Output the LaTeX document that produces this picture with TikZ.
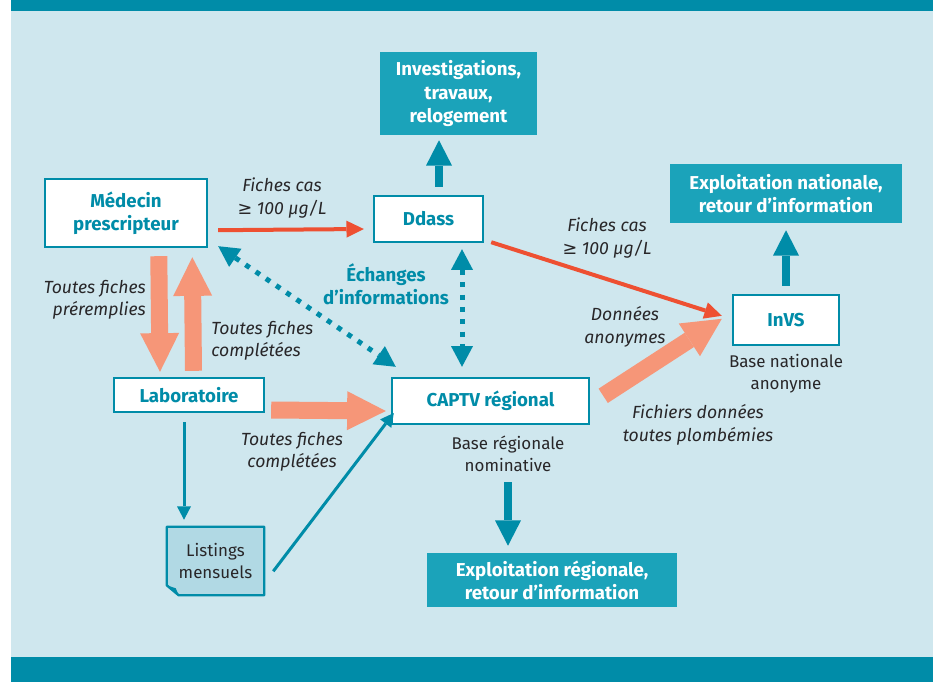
\documentclass[tikz,border=0pt]{standalone}
\usepackage{fontspec}
\setmainfont{Fira Sans}
\newfontfamily\symfont{DejaVu Sans}
\usetikzlibrary{arrows.meta}
\definecolor{tealdk}{RGB}{0,140,168}
\definecolor{tealbox}{RGB}{27,163,186}
\definecolor{panel}{RGB}{207,231,238}
\definecolor{salmon}{RGB}{246,150,120}
\definecolor{redar}{RGB}{238,80,50}
\definecolor{listfill}{RGB}{177,217,228}
\definecolor{txt}{RGB}{40,38,40}
\newcommand{\fsz}{\fontsize{13.2}{16.8}\selectfont}
\newcommand{\fszb}{\fontsize{14}{17.3}\selectfont}
\newcommand{\fszr}{\fontsize{12.7}{16.5}\selectfont}
\tikzset{
  wbox/.style={draw=tealdk, line width=1.8pt, fill=white, text=tealdk, font=\bfseries\fszb, align=center, inner sep=0pt},
  tbox/.style={fill=tealbox, text=white, font=\bfseries\fszb, align=center, inner sep=0pt},
  lbl/.style={text=txt, font=\itshape\fsz, align=center, inner sep=0pt},
  plain/.style={text=txt, font=\fszr, align=center, inner sep=0pt},
  fatsal/.style={draw=salmon, line width=12.75pt, -{Triangle[width=29.25pt,length=29pt,line width=0pt]}},
  fatteal/.style={draw=tealdk, line width=6pt, -{Triangle[width=19.5pt,length=19pt,line width=0pt]}},
  redarrow/.style={draw=redar, line width=3pt, -{Triangle[width=12.75pt,length=13pt,line width=0pt]}},
  thinteal/.style={draw=tealdk, line width=2.25pt, -{Triangle[width=10.5pt,length=10pt,line width=0pt]}},
  dotarr/.style={draw=tealdk, line width=3.75pt, dash pattern=on 3.75pt off 5.5pt, {Triangle[width=16.5pt,length=15.5pt,line width=0pt]}-{Triangle[width=16.5pt,length=15.5pt,line width=0pt]}}
}
\begin{document}
\begin{tikzpicture}[x=0.75pt,y=-0.75pt]
\useasboundingbox (0,0) rectangle (935,682);
\fill[panel] (11,11) rectangle (933,657);
\fill[tealdk] (11,0) rectangle (933,11);
\fill[tealdk] (11,657) rectangle (933,682);

% boxes
\node[wbox, minimum width=121.5pt, minimum height=51pt] (med) at (126,213) {Médecin\\prescripteur};
\node[wbox, minimum width=81.75pt, minimum height=34.5pt] (ddass) at (428.5,219) {Ddass};
\node[tbox, minimum width=117.75pt, minimum height=62.25pt] (inv) at (458.5,93.5) {Investigations,\\travaux,\\relogement};
\node[tbox, minimum width=174pt, minimum height=44.25pt] (expn) at (786,193.5) {Exploitation nationale,\\retour d’information};
\node[wbox, minimum width=79.5pt, minimum height=37.5pt] (invs) at (786,320) {InVS};
\node[wbox, minimum width=147.75pt, minimum height=34.5pt] (captv) at (490.5,401) {CAPTV régional};
\node[tbox, minimum width=187.5pt, minimum height=40.5pt] (expr) at (552,580) {Exploitation régionale,\\retour d’information};
\node[wbox, minimum width=112.5pt, minimum height=25.5pt] (lab) at (189,395) {Laboratoire};

% listings (folded page)
\node[plain, minimum width=72.75pt, minimum height=51pt] (list) at (215.5,561) {};
\filldraw[fill=listfill, draw=tealdk, line width=1.8pt, line join=round]
  (list.north west) -- (list.north east) -- (list.south east)
  -- ([shift={(12,0)}]list.south west) -- ([shift={(0,-10)}]list.south west) -- cycle;
\fill[tealdk] ([shift={(0,-10)}]list.south west) -- ([shift={(9,-7)}]list.south west) -- ([shift={(12,0)}]list.south west) -- cycle;
\node[plain] at (list) {Listings\\mensuels};

% texts
\node[lbl] (l1) at (282,198) {Fiches cas\\{\symfont ≥} 100 µg/L};
\node[lbl] (l2) at (607,238) {Fiches cas\\{\symfont ≥} 100 µg/L};
\node[lbl] (l3) at (625,327) {Données\\anonymes};
\node[lbl] (l4) at (698,425) {Fichiers données\\toutes plombémies};
\node[lbl, anchor=east, align=right] (l5) at (146,300) {Toutes fiches\\préremplies};
\node[lbl, anchor=west, align=left] (l6) at (211,341) {Toutes fiches\\complétées};
\node[lbl] (l7) at (292,452) {Toutes fiches\\complétées};
\node[text=tealdk, font=\bfseries\fszb, align=center, inner sep=0pt] (ech) at (386,284) {Échanges\\d’informations};
\node[plain] (bn) at (786,374) {Base nationale\\anonyme};
\node[plain] (br) at (508,454) {Base régionale\\nominative};

% fat salmon arrows
\draw[fatsal] ([shift={(115,8)}]med.south west) -- ([shift={(-29,-5)}]lab.north);
\draw[fatsal] ([shift={(4.5,-6)}]lab.north) -- ([shift={(148.5,9)}]med.south west);
\draw[fatsal] ([shift={(6,15)}]lab.east) -- ([shift={(-5,10)}]captv.west);
\draw[fatsal] ([shift={(13,19)}]captv.north east) -- ([shift={(-10,25)}]invs.north west);

% fat teal arrows
\draw[fatteal] ([shift={(10.5,-8)}]ddass.north) -- ([shift={(-19.5,5)}]inv.south);
\draw[fatteal] ([shift={(0,-8)}]invs.north) -- ([shift={(0,7)}]expn.south);
\draw[fatteal] ([shift={(17.5,57)}]captv.south) -- ([shift={(-44,-7)}]expr.north);

% red arrows
\draw[redarrow] ([shift={(10,-18)}]med.south east) -- ([shift={(-9,10)}]ddass.west);
\draw[redarrow] ([shift={(7,-1)}]ddass.south east) -- ([shift={(-10,22)}]invs.north west);

% thin teal arrows
\draw[thinteal] ([shift={(-5,9)}]lab.south) -- ([shift={(-31.5,-7)}]list.north);
\draw[thinteal] ([shift={(9,-24)}]list.south east) -- ([shift={(3,12)}]captv.west);

% dotted arrows
\draw[dotarr] ([shift={(10,-2)}]med.south east) -- ([shift={(5,-10)}]captv.north west);
\draw[dotarr] ([shift={(33.5,6)}]ddass.south) -- ([shift={(-28.5,-10)}]captv.north);
\end{tikzpicture}
\end{document}
